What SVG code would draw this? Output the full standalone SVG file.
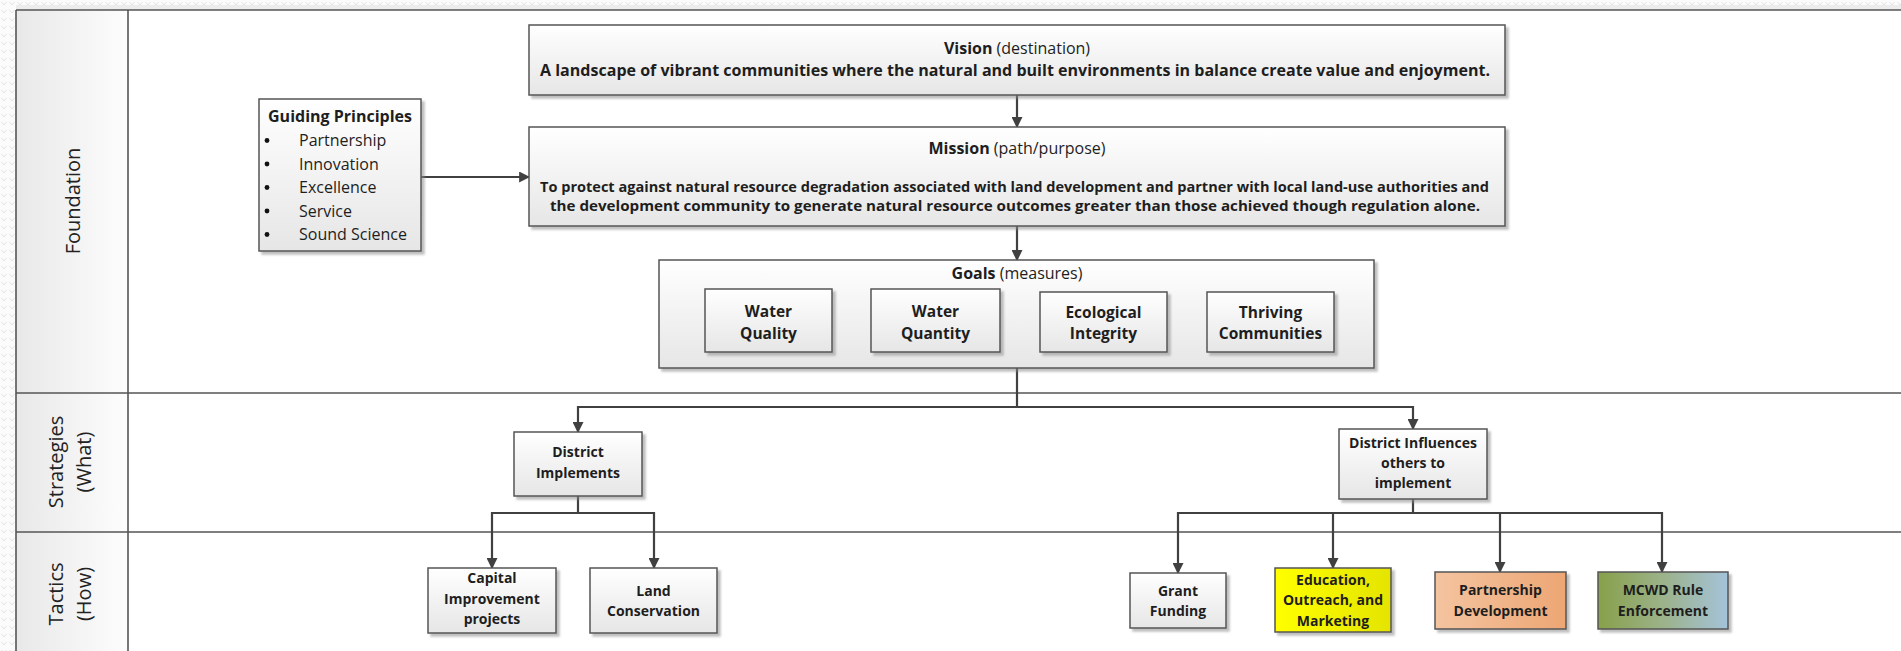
<svg xmlns="http://www.w3.org/2000/svg" width="1901" height="651" viewBox="0 0 1901 651">
  <defs>
    <style>
      .lane { stroke: #555; stroke-width: 1.6; fill: none; }
      .box { stroke: #555; stroke-width: 1.5; filter: url(#shadow); }
      .plain { fill: url(#boxFill); }
      .conn { stroke: #404040; stroke-width: 2.2; fill: none; }
      .arrow { marker-end: url(#head); }
      text { font-family: "Open Sans", "Liberation Sans", sans-serif; fill: #1e1e1e; }
      .hdr { font-size: 20px; text-anchor: middle; fill: #222; }
      .t16 { font-size: 16px; font-weight: bold; text-anchor: middle; }
      .t14 { font-size: 14px; font-weight: bold; text-anchor: middle; }
      .t15 { font-size: 15.5px; font-weight: bold; text-anchor: middle; }
      .reg { font-weight: normal; }
      .bul { font-size: 16px; }
    </style>
    <pattern id="page" width="8" height="8" patternUnits="userSpaceOnUse">
      <rect width="8" height="8" fill="#fbfbfb"/>
      <path d="M1.5,2 L4,5 L6.5,2" stroke="#e4e4e4" stroke-width="1" fill="none"/>
    </pattern>
    <linearGradient id="hdrFill" x1="0" y1="0" x2="1" y2="0">
      <stop offset="0" stop-color="#e8e8e8"/>
      <stop offset="1" stop-color="#fdfdfd"/>
    </linearGradient>
    <linearGradient id="boxFill" x1="0" y1="0" x2="0" y2="1">
      <stop offset="0" stop-color="#ffffff"/>
      <stop offset="1" stop-color="#e6e6e6"/>
    </linearGradient>
    <linearGradient id="yellowFill" x1="0" y1="0" x2="1" y2="0">
      <stop offset="0" stop-color="#ffff00"/>
      <stop offset="1" stop-color="#e4e400"/>
    </linearGradient>
    <linearGradient id="peachFill" x1="0" y1="0" x2="1" y2="0">
      <stop offset="0" stop-color="#f4c4a0"/>
      <stop offset="1" stop-color="#eda674"/>
    </linearGradient>
    <linearGradient id="oliveBlueFill" x1="0" y1="0" x2="1" y2="0">
      <stop offset="0" stop-color="#87a04a"/>
      <stop offset="0.5" stop-color="#9cb28a"/>
      <stop offset="1" stop-color="#a4c3da"/>
    </linearGradient>
    <filter id="shadow" x="-5%" y="-5%" width="115%" height="125%">
      <feDropShadow dx="3" dy="3" stdDeviation="1.2" flood-color="#8a8a8a" flood-opacity="0.55"/>
    </filter>
    <marker id="head" viewBox="0 0 10 10" refX="9" refY="5" markerWidth="11" markerHeight="11" markerUnits="userSpaceOnUse" orient="auto">
      <path d="M0,0 L10,5 L0,10 z" fill="#404040"/>
    </marker>
  </defs>

  <!-- page and swimlane frame -->
  <rect width="1901" height="651" fill="#ffffff"/>
  <rect x="0" y="0" width="16" height="651" fill="url(#page)"/>
  <rect x="0" y="0" width="1901" height="10" fill="url(#page)"/>
  <rect x="16" y="5" width="1885" height="5" fill="#ececec"/>
  <rect x="16" y="10" width="112" height="641" fill="url(#hdrFill)"/>
  <g id="lanes">
    <line class="lane" x1="16" y1="10" x2="1901" y2="10"/>
    <line class="lane" x1="16" y1="10" x2="16" y2="651"/>
    <line class="lane" x1="128" y1="10" x2="128" y2="651"/>
    <line class="lane" x1="16" y1="393" x2="1901" y2="393"/>
    <line class="lane" x1="16" y1="532" x2="1901" y2="532"/>
    <text class="hdr" transform="translate(80,201) rotate(-90)">Foundation</text>
    <text class="hdr" transform="translate(63,462) rotate(-90)">Strategies</text>
    <text class="hdr" transform="translate(91,462) rotate(-90)">(What)</text>
    <text class="hdr" transform="translate(63,594) rotate(-90)">Tactics</text>
    <text class="hdr" transform="translate(91,594) rotate(-90)">(How)</text>
  </g>

  <!-- connectors -->
  <g id="connectors">
    <path class="conn arrow" d="M421,177 H529"/>
    <path class="conn arrow" d="M1017,95 V127"/>
    <path class="conn arrow" d="M1017,226 V260"/>
    <path class="conn" d="M1017,368 V407"/>
    <path class="conn arrow" d="M1017,407 H578 V432"/>
    <path class="conn arrow" d="M1017,407 H1413 V429"/>
    <path class="conn arrow" d="M578,496 V513 H492 V568"/>
    <path class="conn arrow" d="M578,513 H654 V568"/>
    <path class="conn arrow" d="M1413,499 V513 H1178 V573"/>
    <path class="conn arrow" d="M1413,513 H1662 V572"/>
    <path class="conn arrow" d="M1333,513 V568"/>
    <path class="conn arrow" d="M1500,513 V572"/>
  </g>

  <!-- Foundation lane -->
  <g id="guiding-principles">
    <rect class="box plain" x="259" y="99" width="162" height="152"/>
    <text class="t16" x="340" y="122">Guiding Principles</text>
    <g class="bul">
      <circle cx="267" cy="140.5" r="2.4" fill="#111"/>
      <circle cx="267" cy="164" r="2.4" fill="#111"/>
      <circle cx="267" cy="187.5" r="2.4" fill="#111"/>
      <circle cx="267" cy="211" r="2.4" fill="#111"/>
      <circle cx="267" cy="234.5" r="2.4" fill="#111"/>
      <text class="bul" x="299" y="146">Partnership</text>
      <text class="bul" x="299" y="169.5">Innovation</text>
      <text class="bul" x="299" y="193">Excellence</text>
      <text class="bul" x="299" y="216.5">Service</text>
      <text class="bul" x="299" y="240">Sound Science</text>
    </g>
  </g>

  <g id="vision">
    <rect class="box plain" x="529" y="25" width="976" height="70"/>
    <text class="t16" x="1017" y="54">Vision<tspan class="reg"> (destination)</tspan></text>
    <text class="t16" x="1015" y="76" textLength="950" lengthAdjust="spacingAndGlyphs">A landscape of vibrant communities where the natural and built environments in balance create value and enjoyment.</text>
  </g>

  <g id="mission">
    <rect class="box plain" x="529" y="127" width="976" height="99"/>
    <text class="t16" x="1017" y="154">Mission<tspan class="reg"> (path/purpose)</tspan></text>
    <text class="t14" x="1014.5" y="192" textLength="949" lengthAdjust="spacingAndGlyphs">To protect against natural resource degradation associated with land development and partner with local land-use authorities and</text>
    <text class="t14" x="1015" y="211" textLength="930" lengthAdjust="spacingAndGlyphs">the development community to generate natural resource outcomes greater than those achieved though regulation alone.</text>
  </g>

  <g id="goals">
    <rect class="box plain" x="659" y="260" width="715" height="108"/>
    <text class="t16" x="1017" y="279">Goals<tspan class="reg"> (measures)</tspan></text>
  </g>
  <g id="goal-water-quality">
    <rect class="box plain" x="705" y="289" width="127" height="63"/>
    <text class="t15" x="768.5" y="316.5">Water</text>
    <text class="t15" x="768.5" y="338.5">Quality</text>
  </g>
  <g id="goal-water-quantity">
    <rect class="box plain" x="871" y="289" width="129" height="63"/>
    <text class="t15" x="935.5" y="316.5">Water</text>
    <text class="t15" x="935.5" y="338.5">Quantity</text>
  </g>
  <g id="goal-ecological-integrity">
    <rect class="box plain" x="1040" y="292" width="127" height="60"/>
    <text class="t15" x="1103.5" y="317.5">Ecological</text>
    <text class="t15" x="1103.5" y="339">Integrity</text>
  </g>
  <g id="goal-thriving-communities">
    <rect class="box plain" x="1207" y="292" width="127" height="60"/>
    <text class="t15" x="1270.5" y="317.5">Thriving</text>
    <text class="t15" x="1270.5" y="339">Communities</text>
  </g>

  <!-- Strategies lane -->
  <g id="district-implements">
    <rect class="box plain" x="514" y="432" width="128" height="64"/>
    <text class="t14" x="578" y="457">District</text>
    <text class="t14" x="578" y="477.5">Implements</text>
  </g>
  <g id="district-influences">
    <rect class="box plain" x="1339" y="429" width="148" height="70"/>
    <text class="t14" x="1413" y="448">District Influences</text>
    <text class="t14" x="1413" y="468">others to</text>
    <text class="t14" x="1413" y="488">implement</text>
  </g>

  <!-- Tactics lane -->
  <g id="capital-improvement">
    <rect class="box plain" x="428" y="568" width="128" height="65"/>
    <text class="t14" x="492" y="583">Capital</text>
    <text class="t14" x="492" y="603.5">Improvement</text>
    <text class="t14" x="492" y="624">projects</text>
  </g>
  <g id="land-conservation">
    <rect class="box plain" x="590" y="568" width="127" height="65"/>
    <text class="t14" x="653.5" y="596">Land</text>
    <text class="t14" x="653.5" y="616">Conservation</text>
  </g>
  <g id="grant-funding">
    <rect class="box plain" x="1130" y="573" width="96" height="55"/>
    <text class="t14" x="1178" y="596">Grant</text>
    <text class="t14" x="1178" y="616">Funding</text>
  </g>
  <g id="education-outreach">
    <rect class="box" x="1275" y="568" width="116" height="64" fill="url(#yellowFill)"/>
    <text class="t14" x="1333" y="584.5">Education,</text>
    <text class="t14" x="1333" y="605">Outreach, and</text>
    <text class="t14" x="1333" y="625.5">Marketing</text>
  </g>
  <g id="partnership-development">
    <rect class="box" x="1435" y="572" width="131" height="57" fill="url(#peachFill)"/>
    <text class="t14" x="1500.5" y="595">Partnership</text>
    <text class="t14" x="1500.5" y="615.5">Development</text>
  </g>
  <g id="rule-enforcement">
    <rect class="box" x="1598" y="572" width="130" height="57" fill="url(#oliveBlueFill)"/>
    <text class="t14" x="1663" y="595">MCWD Rule</text>
    <text class="t14" x="1663" y="615.5">Enforcement</text>
  </g>
</svg>
